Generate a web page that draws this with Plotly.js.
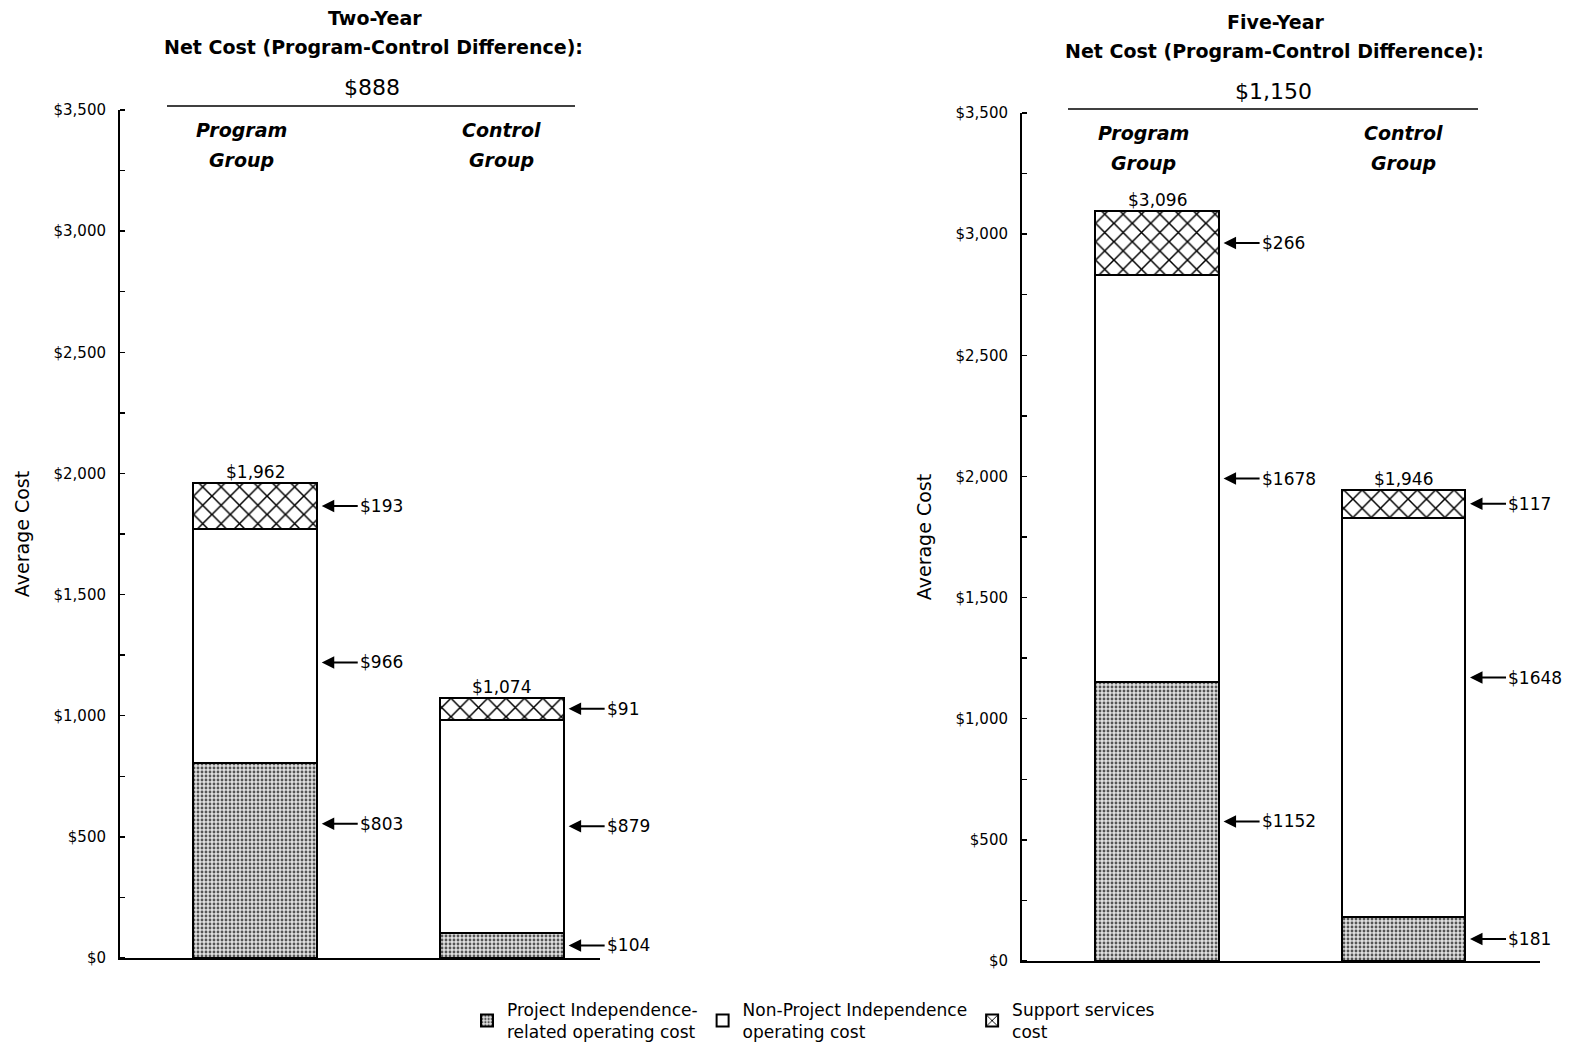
<!DOCTYPE html>
<html>
<head>
<meta charset="utf-8">
<script src="https://cdn.plot.ly/plotly-3.0.1.min.js"></script>
<style>html,body{margin:0;padding:0;background:#fff}#chart{width:1570px;height:1050px}</style>
</head>
<body>
<div id="chart"></div>
<script>
// ---- data ----
const groups = ['Program', 'Control'];
const groupLabels = ['Program<br>Group', 'Control<br>Group'];
const seriesNames = ['Project Independence-<br>related operating cost', 'Non-Project Independence<br>operating cost', 'Support services<br>cost'];
const twoYearPI = [803, 104];
const twoYearNonPI = [966, 879];
const twoYearSupport = [193, 91];
const twoYearTotal = [1962, 1074];
const fiveYearPI = [1152, 181];
const fiveYearNonPI = [1678, 1648];
const fiveYearSupport = [266, 117];
const fiveYearTotal = [3096, 1946];
const netCost = [888, 1150];
const panelTitles = ['Two-Year', 'Five-Year'];
const yTickVals = [0, 500, 1000, 1500, 2000, 2500, 3000, 3500];

// ---- styles ----
const FONT = 'DejaVu Sans, Verdana, sans-serif';
const fmt = v => '$' + v.toLocaleString('en-US');
const yTickText = yTickVals.map(fmt);
const outline = {color: '#000', width: 2};
const styles = [
  {color: '#cfcfcf', line: outline, pattern: {shape: '.', fgcolor: '#555555', bgcolor: '#e0e0e0', size: 4, solidity: 0.4}},
  {color: '#fff', line: outline},
  {color: '#fff', line: outline, pattern: {shape: 'x', fgcolor: '#000', bgcolor: '#fff', size: 13, solidity: 0.22}}
];
// vertical pixel nudges of the arrow labels (as placed in the original)
const arrowShift = [[[37, 0], [-16, 0], [0, 0]], [[0, 0], [0, 40], [0, 0]]];

const panels = [
  {series: [twoYearPI, twoYearNonPI, twoYearSupport], total: twoYearTotal, xa: 'x', ya: 'y'},
  {series: [fiveYearPI, fiveYearNonPI, fiveYearSupport], total: fiveYearTotal, xa: 'x2', ya: 'y2'}
];

const traces = [];
const annotations = [];

panels.forEach((p, pi) => {
  p.series.forEach((vals, si) => {
    traces.push({
      type: 'bar', x: groups, y: vals, width: 0.5,
      name: seriesNames[si], legendgroup: 's' + si, showlegend: pi === 0,
      marker: styles[si], xaxis: p.xa, yaxis: p.ya, hoverinfo: 'y'
    });
    vals.forEach((v, gi) => {
      let base = 0;
      for (let k = 0; k < si; k++) base += p.series[k][gi];
      annotations.push({
        xref: p.xa, yref: p.ya, x: gi + 0.27, y: base + v / 2,
        yshift: arrowShift[pi][si][gi],
        text: '$' + v, showarrow: true, arrowhead: 2, arrowsize: 1.25, arrowwidth: 2,
        arrowcolor: '#000', ax: 36, ay: 0, xanchor: 'left',
        font: {family: FONT, size: 17, color: '#000'}
      });
    });
  });
  p.total.forEach((t, gi) => {
    annotations.push({
      xref: p.xa, yref: p.ya, x: gi, y: t, text: fmt(t), showarrow: false,
      yanchor: 'bottom', yshift: -1, font: {family: FONT, size: 17, color: '#000'}
    });
  });
  groupLabels.forEach((g, gi) => {
    const parts = g.split('<br>');
    parts.forEach((line, li) => {
      annotations.push({
        xref: p.xa, yref: 'paper', x: gi, xshift: gi === 0 ? -14 : 0, xanchor: 'center',
        y: 1 - ((pi === 0 ? 130 : 133) + li * 30.5) / 1050, yanchor: 'middle',
        text: '<b><i>' + line + '</i></b>', showarrow: false,
        font: {family: FONT, size: 19, color: '#000'}
      });
    });
  });
});

// headings
const headX = [375 / 1570, 1276 / 1570];
const headY0 = [18, 22];
panelTitles.forEach((t, i) => {
  annotations.push({xref: 'paper', yref: 'paper', x: headX[i], xanchor: 'center', y: 1 - headY0[i] / 1050, yanchor: 'middle',
    text: '<b>' + t + '</b>', showarrow: false, font: {family: FONT, size: 19, color: '#000'}});
  annotations.push({xref: 'paper', yref: 'paper', x: headX[i] - 2 / 1570, xanchor: 'center', y: 1 - (headY0[i] + 29) / 1050, yanchor: 'middle',
    text: '<b>Net Cost (Program-Control Difference):</b>', showarrow: false, font: {family: FONT, size: 19, color: '#000'}});
  annotations.push({xref: 'paper', yref: 'paper', x: headX[i] - 3 / 1570, xanchor: 'center', y: 1 - (headY0[i] + 69) / 1050, yanchor: 'middle',
    text: fmt(netCost[i]), showarrow: false, font: {family: FONT, size: 22, color: '#000'}});
});

const shapes = [
  {type: 'line', xref: 'paper', yref: 'paper', x0: 167 / 1570, x1: 575 / 1570, y0: 1 - 106 / 1050, y1: 1 - 106 / 1050, line: {color: '#000', width: 1.5}},
  {type: 'line', xref: 'paper', yref: 'paper', x0: 1068 / 1570, x1: 1478 / 1570, y0: 1 - 109 / 1050, y1: 1 - 109 / 1050, line: {color: '#000', width: 1.5}}
];

const yaxisBase = {
  range: [0, 3500], tickmode: 'array', tickvals: yTickVals, ticktext: yTickText,
  showgrid: false, zeroline: false, showline: true, linecolor: '#000', linewidth: 2,
  ticks: '', ticklabelstandoff: 9, tickfont: {family: FONT, size: 15, color: '#000'},
  minor: {dtick: 250, tick0: 0, ticks: 'inside', ticklen: 5, tickcolor: '#000', tickwidth: 1.5},
  title: {text: 'Average Cost', font: {family: FONT, size: 19, color: '#000'}, standoff: 19},
  fixedrange: true
};
const xaxisBase = {showticklabels: false, showgrid: false, zeroline: false, showline: true,
  linecolor: '#000', linewidth: 2, ticks: '', fixedrange: true, type: 'category'};

const layout = {
  width: 1570, height: 1050, margin: {l: 0, r: 0, t: 0, b: 0},
  paper_bgcolor: '#fff', plot_bgcolor: '#fff', barmode: 'stack',
  font: {family: FONT, color: '#000'},
  xaxis: Object.assign({}, xaxisBase, {domain: [120 / 1570, 600 / 1570], range: [-0.547, 1.397], anchor: 'y'}),
  yaxis: Object.assign({}, yaxisBase, {domain: [1 - 958 / 1050, 1 - 110 / 1050], anchor: 'x'}),
  xaxis2: Object.assign({}, xaxisBase, {domain: [1022 / 1570, 1540 / 1570], range: [-0.548, 1.554], anchor: 'y2'}),
  yaxis2: Object.assign({}, yaxisBase, {domain: [1 - 961 / 1050, 1 - 113 / 1050], anchor: 'x2'}),
  showlegend: true,
  legend: {orientation: 'h', x: 467 / 1570, y: 0.0, xanchor: 'left', yanchor: 'bottom',
    font: {family: FONT, size: 17, color: '#000'}, traceorder: 'normal', bgcolor: 'rgba(0,0,0,0)'},
  annotations: annotations, shapes: shapes
};

Plotly.newPlot('chart', traces, layout, {displayModeBar: false, staticPlot: true});
</script>
</body>
</html>
